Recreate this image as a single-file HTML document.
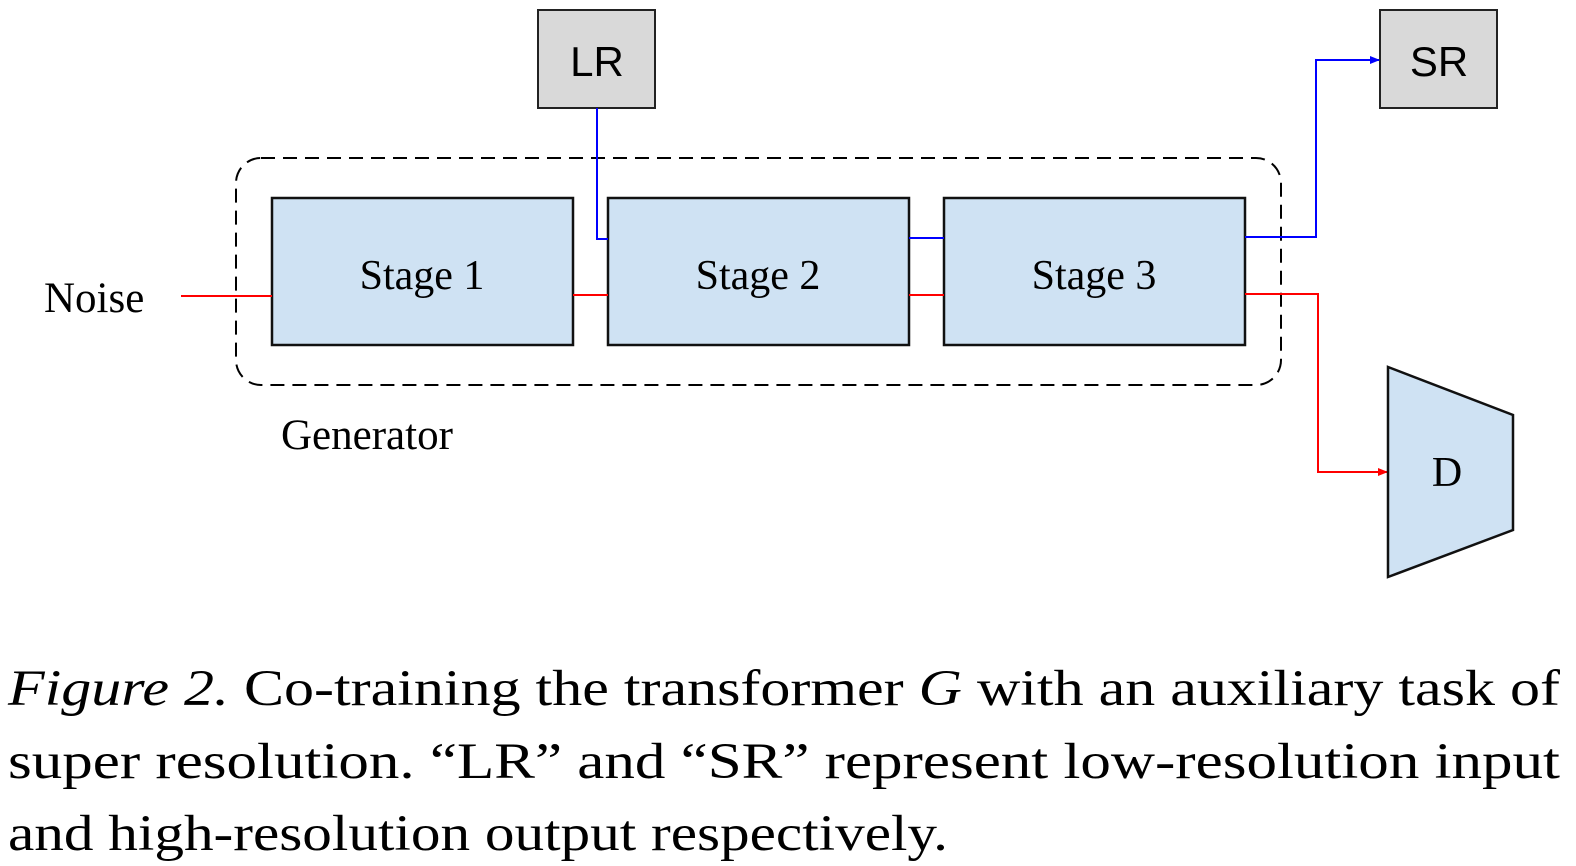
<!DOCTYPE html>
<html><head><meta charset="utf-8"><style>
html,body{margin:0;padding:0;background:#fff;width:1576px;height:866px;overflow:hidden}
svg{display:block}
.serif{font-family:"Liberation Serif",serif}
.sans{font-family:"Liberation Sans",sans-serif}
</style></head><body>
<svg width="1576" height="866" viewBox="0 0 1576 866">
<defs>
<marker id="ab" markerWidth="10" markerHeight="8" refX="9" refY="4" orient="auto" markerUnits="userSpaceOnUse"><path d="M0,0 L10,4 L0,8 z" fill="#0000ff"/></marker>
<marker id="ar" markerWidth="10" markerHeight="8" refX="9" refY="4" orient="auto" markerUnits="userSpaceOnUse"><path d="M0,0 L10,4 L0,8 z" fill="#ff0000"/></marker>
</defs>
<rect x="236" y="158" width="1045" height="227" rx="25" fill="none" stroke="#000" stroke-width="2" stroke-dasharray="14,8"/>
<g><rect x="538" y="10" width="117" height="98" fill="#d9d9d9" stroke="#222" stroke-width="2"/><text class="sans" x="597" y="76" font-size="42" text-anchor="middle">LR</text></g>
<g><rect x="1380" y="10" width="117" height="98" fill="#d9d9d9" stroke="#222" stroke-width="2"/><text class="sans" x="1439" y="76" font-size="42" text-anchor="middle">SR</text></g>
<g><rect x="272" y="198" width="301" height="147" fill="#cfe2f3" stroke="#111" stroke-width="2.5"/><text class="serif" x="422" y="289" font-size="42" text-anchor="middle">Stage 1</text></g>
<g><rect x="608" y="198" width="301" height="147" fill="#cfe2f3" stroke="#111" stroke-width="2.5"/><text class="serif" x="758" y="289" font-size="42" text-anchor="middle">Stage 2</text></g>
<g><rect x="944" y="198" width="301" height="147" fill="#cfe2f3" stroke="#111" stroke-width="2.5"/><text class="serif" x="1094" y="289" font-size="42" text-anchor="middle">Stage 3</text></g>
<text class="serif" x="44" y="312" font-size="43">Noise</text>
<text class="serif" x="281" y="449" font-size="43">Generator</text>
<g fill="none" stroke-width="2">
<path d="M181,296 H272" stroke="#ff0000"/>
<path d="M573,295 H608" stroke="#ff0000"/>
<path d="M909,295 H944" stroke="#ff0000"/>
<path d="M597,108 V239 H608" stroke="#0000ff"/>
<path d="M909,238 H944" stroke="#0000ff"/>
<path d="M1245,237 H1316 V60 H1379" stroke="#0000ff" marker-end="url(#ab)"/>
<path d="M1245,294 H1318 V472 H1387" stroke="#ff0000" marker-end="url(#ar)"/>
</g>
<g><polygon points="1388,367 1513,415 1513,530 1388,577" fill="#cfe2f3" stroke="#111" stroke-width="2.5"/><text class="serif" x="1447" y="486" font-size="42" text-anchor="middle">D</text></g>
<g class="serif" font-size="51">
<text x="8" y="705" textLength="1552" lengthAdjust="spacingAndGlyphs"><tspan font-style="italic">Figure 2.</tspan> Co-training the transformer <tspan font-style="italic">G</tspan> with an auxiliary task of</text>
<text x="8" y="778" textLength="1552" lengthAdjust="spacingAndGlyphs">super resolution. “LR” and “SR” represent low-resolution input</text>
<text x="8" y="850" textLength="940" lengthAdjust="spacingAndGlyphs">and high-resolution output respectively.</text>
</g>
</svg>
</body></html>
